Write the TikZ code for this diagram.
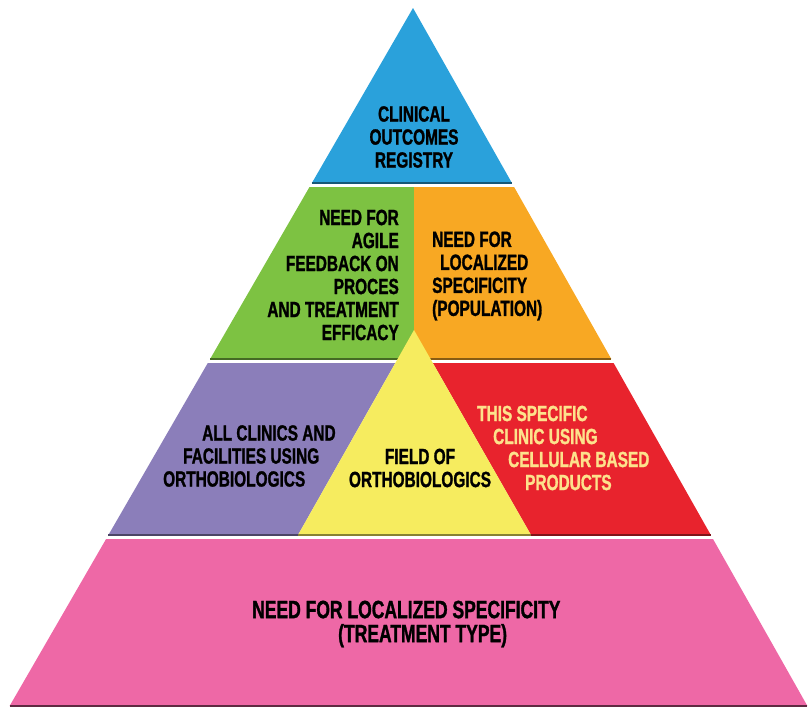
\documentclass[tikz,border=0pt]{standalone}
\usepackage{fontspec}
\usepackage{tikz}
\newfontfamily\pyrfont{Liberation Sans}[UprightFont=* Bold, FakeStretch=0.7, FakeBold=1.2]
\definecolor{regblue}{RGB}{42,161,219}
\definecolor{agilegreen}{RGB}{125,194,66}
\definecolor{popuorange}{RGB}{248,168,35}
\definecolor{clinpurple}{RGB}{139,126,186}
\definecolor{fieldyellow}{RGB}{246,236,95}
\definecolor{specred}{RGB}{232,35,45}
\definecolor{treatpink}{RGB}{238,104,166}
\definecolor{redtext}{RGB}{253,226,140}

\begin{document}
\begin{tikzpicture}[x=1pt,y=-1pt,
    rim/.style={line width=1.2pt},
    txt/.style={font=\pyrfont\fontsize{22}{23}\selectfont, inner sep=0pt, text=black}]
    \useasboundingbox (0,0) rectangle (808,712);
    % top
    \fill[regblue] (413,8) coordinate (apex) -- (511.9,183) -- (311.9,183) -- cycle;
    \draw[rim,regblue!55!black] (311.9,183) -- (511.9,183);
    % second band
    \fill[agilegreen] (309.5,187) -- (414,187) -- (414,359) -- (210.1,359) -- cycle;
    \fill[popuorange] (414,187) -- (514.1,187) -- (611.3,359) -- (414,359) -- cycle;
    \draw[rim,agilegreen!55!black] (210.1,359) -- (414,359);
    \draw[rim,popuorange!55!black] (414,359) -- (611.3,359);
    % third band
    \fill[clinpurple] (207.8,363) -- (395.3,363) -- (298,535) -- (108.4,535) -- cycle;
    \fill[specred] (432.8,363) -- (613.6,363) -- (710.8,535) -- (531,535) -- cycle;
    \fill[fieldyellow] (414,330) coordinate (tip) -- (531,535) coordinate (fr) -- (298,535) coordinate (fl) -- cycle;
    \draw[rim,clinpurple!55!black] (108.4,535) -- (fl);
    \draw[rim,fieldyellow!55!black] (fl) -- (fr);
    \draw[rim,specred!55!black] (fr) -- (710.8,535);
    % base
    \fill[treatpink] (106.1,539) -- (713,539) -- (807.4,706) -- (9.6,706) -- cycle;
    \draw[rim,treatpink!40!black] (9.6,706) -- (807.4,706);

    \node[txt,align=center] (registry) at (414,137) {CLINICAL\\OUTCOMES\\REGISTRY};
    \node[txt,align=right,anchor=east] (agile) at (399,275) {NEED FOR\\AGILE\\FEEDBACK ON\\PROCES\\AND TREATMENT\\EFFICACY};
    \node[txt,align=left,anchor=west] (popul) at (432,276) {NEED FOR\\\hspace*{8pt}LOCALIZED\\SPECIFICITY\\(POPULATION)};
    \node[txt,align=left,anchor=west] (clinics) at (163,456) {\hspace*{39pt}ALL CLINICS AND\\\hspace*{20pt}FACILITIES USING\\ORTHOBIOLOGICS};
    \node[txt,align=center] (field) at (420,468) {FIELD OF\\ORTHOBIOLOGICS};
    \node[txt,align=left,anchor=west,text=redtext] (specific) at (477,448) {THIS SPECIFIC\\\hspace*{16pt}CLINIC USING\\\hspace*{31pt}CELLULAR BASED\\\hspace*{48pt}PRODUCTS};
    \node[txt,align=left,anchor=west,font=\pyrfont\fontsize{25}{24}\selectfont] (treatment) at (252,624) {NEED FOR LOCALIZED SPECIFICITY\\\hspace*{86pt}(TREATMENT TYPE)};
\end{tikzpicture}
\end{document}
